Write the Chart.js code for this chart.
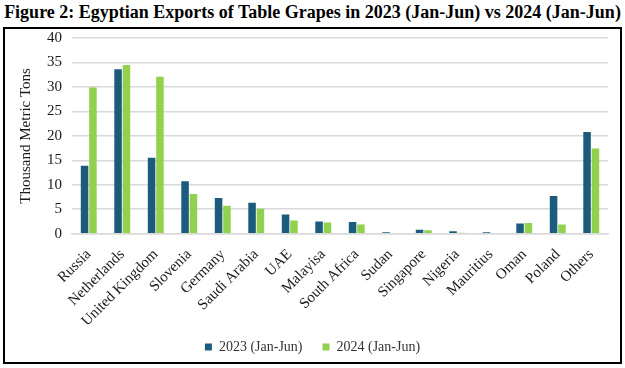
<!DOCTYPE html>
<html>
<head>
<meta charset="utf-8">
<script src="https://cdn.jsdelivr.net/npm/chart.js@4"></script>
<style>
  body { margin: 0; background: #fff; }
  #title {
    position: absolute; left: 0; top: 1px; width: 625px; text-align: center;
    font: bold 18px "Liberation Serif", serif; color: #000; white-space: nowrap;
    transform: scaleY(1.1);
  }
  #box {
    position: absolute; left: 3px; top: 27px; width: 615px; height: 333px;
    border: 2px solid #000;
  }
</style>
</head>
<body>
<div id="title">Figure 2: Egyptian Exports of Table Grapes in 2023 (Jan-Jun) vs 2024 (Jan-Jun)</div>
<div id="box"><canvas id="grapesChart" width="615" height="333"></canvas></div>
<script>
// data (thousand metric tons)
const countries = ['Russia', 'Netherlands', 'United Kingdom', 'Slovenia', 'Germany', 'Saudi Arabia',
  'UAE', 'Malayisa', 'South Africa', 'Sudan', 'Singapore', 'Nigeria', 'Mauritius', 'Oman', 'Poland', 'Others'];
const exports2023 = [13.9, 33.6, 15.5, 10.7, 7.3, 6.3, 3.9, 2.5, 2.4, 0.3, 0.8, 0.5, 0.3, 2.1, 7.7, 20.8];
const exports2024 = [29.9, 34.5, 32.1, 8.1, 5.7, 5.1, 2.7, 2.3, 1.9, 0.15, 0.7, 0.2, 0, 2.2, 1.9, 17.4];
const yTicks = [0, 5, 10, 15, 20, 25, 30, 35, 40];

// pull the legend up closer to the rotated labels
const legendNudge = {
  id: 'legendNudge',
  afterLayout(chart) {
    chart.legend.top -= 14;
    chart.legend.bottom -= 14;
  }
};

function initChart() {
  const ctx = document.getElementById('grapesChart').getContext('2d');
  const serif = '"Liberation Serif", serif';

  const data = {
    labels: countries,
    datasets: [{
      label: '2023 (Jan-Jun)',
      data: exports2023,
      backgroundColor: '#1d5b7d',
      barPercentage: 0.9,
      categoryPercentage: 0.5
    }, {
      label: '2024 (Jan-Jun)',
      data: exports2024,
      backgroundColor: '#92d050',
      barPercentage: 0.9,
      categoryPercentage: 0.5
    }]
  };

  const options = {
    responsive: false,
    animation: false,
    layout: { padding: { top: 0, right: 12, left: 12, bottom: -16 } },
    scales: {
      x: {
        grid: { display: false },
        border: { color: '#d9d9d9', width: 1.5 },
        ticks: {
          color: '#1a1a1a', font: { family: serif, size: 15 },
          minRotation: 45, maxRotation: 45, padding: 4
        }
      },
      y: {
        min: 0, max: 40,
        afterBuildTicks: axis => { axis.ticks = yTicks.map(v => ({ value: v })); },
        // invisible tick marks keep the gap between labels and grid
        grid: { color: '#d9d9d9', lineWidth: 1.5, drawTicks: true, tickLength: 10, tickColor: 'rgba(0,0,0,0)' },
        border: { display: false },
        ticks: { color: '#1a1a1a', font: { family: serif, size: 15 }, padding: 0 },
        title: {
          display: true, text: 'Thousand Metric Tons',
          color: '#1a1a1a', font: { family: serif, size: 15 }, padding: { top: 0, bottom: 12 }
        }
      }
    },
    plugins: {
      legend: {
        position: 'bottom',
        labels: {
          color: '#333', font: { family: serif, size: 14 },
          boxWidth: 7, boxHeight: 7, padding: 20
        }
      },
      tooltip: { enabled: false }
    }
  };

  new Chart(ctx, { type: 'bar', data: data, options: options, plugins: [legendNudge] });
}

window.addEventListener('DOMContentLoaded', initChart);
</script>
</body>
</html>
